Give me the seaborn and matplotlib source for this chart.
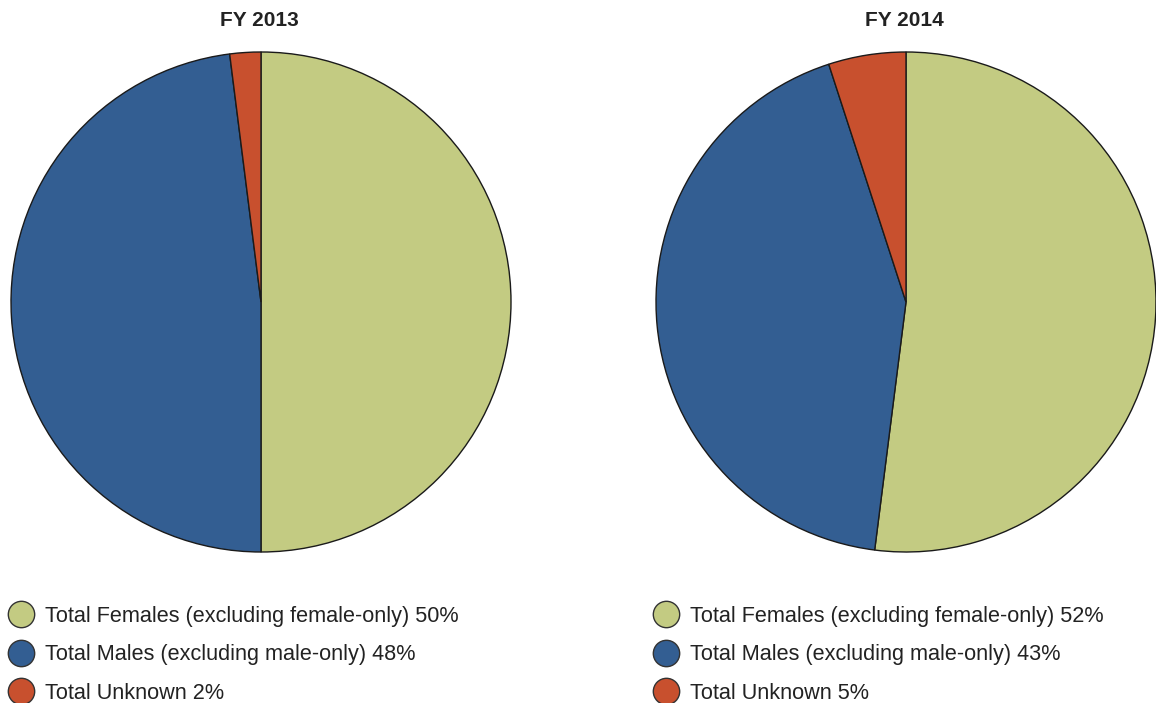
import matplotlib
matplotlib.use("Agg")
import matplotlib.pyplot as plt
from matplotlib.lines import Line2D
import seaborn as sns

sns.set_theme(style="white")
plt.rcParams['font.family'] = ['Liberation Sans', 'DejaVu Sans']

years = ["FY 2013", "FY 2014"]
categories = ["Total Females (excluding female-only)",
              "Total Males (excluding male-only)",
              "Total Unknown"]
values_2013 = [50, 48, 2]
values_2014 = [52, 43, 5]
colors = ["#C3CB82", "#335E92", "#C8502E"]

fig = plt.figure(figsize=(11.56, 7.03), dpi=100)
W, H = 1156, 703

def px_axes(left, top, w, h):
    return fig.add_axes([left / W, 1 - (top + h) / H, w / W, h / H])

for i, (yr, vals, left) in enumerate(zip(years, [values_2013, values_2014], [11, 656])):
    ax = px_axes(left, 52, 500, 500)
    ax.pie(vals, colors=colors, startangle=90, counterclock=False,
           wedgeprops=dict(edgecolor="#1a1a1a", linewidth=1.0))
    ax.set_aspect("equal")
    ax.set_xlim(-1.0, 1.0)
    ax.set_ylim(-1.0, 1.0)
    fig.text((left + 248) / W, 1 - 21 / H, yr, ha="center", va="center",
             fontsize=15, fontweight="bold", color="#222222")
    handles = [Line2D([0], [0], marker="o", linestyle="none", markersize=19,
                      markerfacecolor=c, markeredgecolor="#333333", markeredgewidth=1.0)
               for c in colors]
    labels = [f"{cat} {v}%" for cat, v in zip(categories, vals)]
    fig.legend(handles, labels, loc="upper left",
               bbox_to_anchor=((left - 1) / W, 1 - 606 / H),
               frameon=False, fontsize=15.6, handlelength=1.05, handletextpad=0.55,
               labelspacing=0.8, borderpad=0, borderaxespad=0,
               labelcolor="#222222")

fig.savefig("out.png", dpi=100, facecolor="white")
